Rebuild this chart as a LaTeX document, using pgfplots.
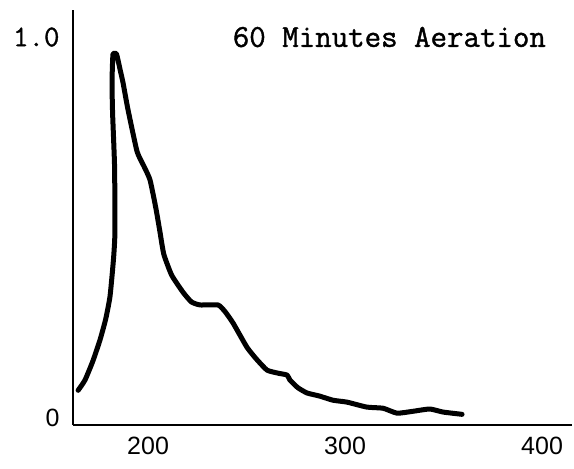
\documentclass[border=0pt]{standalone}
\usepackage{fontspec}
\setmainfont{Liberation Sans}
\newfontfamily\tw{Latin Modern Mono}[FakeBold=1.2]
\usepackage{pgfplots}
\pgfplotsset{compat=1.18}
\begin{document}
\begin{tikzpicture}
\begin{axis}[
  name=ax,
  scale only axis,
  width=499pt, height=415pt,
  xmin=161.9, xmax=415.2,
  ymin=-0.018, ymax=1.071,
  axis lines=left,
  axis line style={-, line width=2.6pt},
  major tick length=0pt,
  xtick={200,300,400},
  xticklabel style={font=\fontsize{25}{28}\selectfont, yshift=-9pt},
  ytick={0,1},
  yticklabels={\fontsize{25}{28}\selectfont 0, {\fontsize{30}{32}\selectfont\tw 1.0}},
  yticklabel style={xshift=-10pt},
  /pgf/number format/assume math mode=true,
  clip=false,
]
\addplot[black, line width=5pt, smooth, tension=0.3, line join=round, line cap=round] coordinates {
(164.5,0.073) (168,0.10) (172,0.15) (175.6,0.205) (178.5,0.26) (180.7,0.32)
(182.5,0.42) (183.2,0.49) (183,0.66) (182,0.80) (181.7,0.88) (182.2,0.955)
(184,0.955) (186,0.91) (187.3,0.88) (189.8,0.81) (194.4,0.70) (198,0.66)
(201,0.625) (204,0.55) (206,0.49) (208,0.43) (212,0.375) (217.8,0.33)
(222,0.305) (226.4,0.297) (235.5,0.297) (239,0.28) (243.1,0.25) (250.2,0.186)
(255,0.155) (260.4,0.126) (266,0.118) (270.6,0.113) (272,0.10) (276,0.08)
(280.7,0.066) (287,0.058) (293.9,0.047) (301,0.042) (311,0.029) (319.3,0.026)
(326.4,0.013) (334.5,0.018) (343,0.024) (349.7,0.016) (359.4,0.010)
};
\node[font=\fontsize{32}{36}\selectfont\tw] at (axis cs:322.5,1.0) {60 Minutes Aeration};
\end{axis}
\pgfresetboundingbox
\path[use as bounding box] ([xshift=-73pt,yshift=-43pt]ax.south west) rectangle ([xshift=2pt,yshift=10pt]ax.north east);
\end{tikzpicture}
\end{document}
